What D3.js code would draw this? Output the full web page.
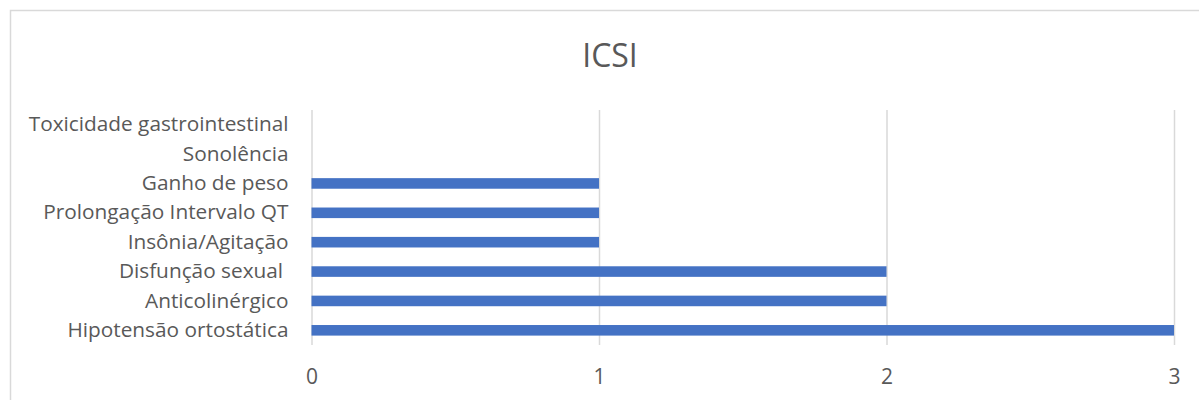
<!DOCTYPE html>
<html>
<head>
<meta charset="utf-8">
<script src="https://cdn.jsdelivr.net/npm/d3@7"></script>
<style>
  html, body { margin: 0; padding: 0; background: #fff; }
  svg { display: block; }
  text { font-family: "Open Sans", "Noto Sans", sans-serif; fill: #595959; }
</style>
</head>
<body>
<svg id="chart" width="1199" height="400"></svg>
<script>
// Side effects observed with ICSI, listed top to bottom
const categories = [
  "Toxicidade gastrointestinal",
  "Sonolência",
  "Ganho de peso",
  "Prolongação Intervalo QT",
  "Insônia/Agitação",
  "Disfunção sexual ",
  "Anticolinérgico",
  "Hipotensão ortostática"
];
const values = [0, 0, 1, 1, 1, 2, 2, 3];
const xTicks = [0, 1, 2, 3];
const chartTitle = "ICSI";

const svg = d3.select("#chart");
const W = 1199, H = 400;
const plot = { left: 311.5, right: 1174, top: 110, bottom: 345 };

// Chart frame
svg.append("rect")
  .attr("x", 10.5).attr("y", 10.5)
  .attr("width", W).attr("height", H)
  .attr("fill", "#fff")
  .attr("stroke", "#D9D9D9")
  .attr("stroke-width", 1.5);

// Title
svg.append("text")
  .attr("x", 610).attr("y", 67)
  .attr("text-anchor", "middle")
  .style("font-size", "32px")
  .text(chartTitle);

const x = d3.scaleLinear().domain([0, 3]).range([plot.left, plot.right]);
const y = d3.scaleBand()
  .domain(categories)
  .range([plot.top, plot.bottom])
  .paddingInner(0.64)
  .paddingOuter(0.32);

// Vertical gridlines
const xAxis = svg.append("g")
  .attr("transform", `translate(0,${plot.bottom})`)
  .call(d3.axisBottom(x).tickValues(xTicks).tickFormat(d3.format("d"))
    .tickSize(plot.bottom - plot.top));
xAxis.select(".domain").remove();
xAxis.selectAll(".tick line")
  .attr("y1", 0).attr("y2", -(plot.bottom - plot.top))
  .attr("stroke", "#D9D9D9").attr("stroke-width", 1.5);
xAxis.selectAll(".tick text")
  .attr("y", 32).attr("dy", "0.35em")
  .style("font-size", "21px")
  .attr("fill", "#595959");

// Category labels
const yAxis = svg.append("g")
  .attr("transform", `translate(${plot.left},0)`)
  .call(d3.axisLeft(y).tickSize(0).tickPadding(23));
yAxis.select(".domain").remove();
yAxis.selectAll(".tick text")
  .style("font-size", "20.8px")
  .style("white-space", "pre")
  .attr("fill", "#595959");

// Bars
svg.append("g").selectAll("rect")
  .data(categories.map((c, i) => ({ c, v: values[i] })))
  .join("rect")
  .attr("x", x(0))
  .attr("y", d => y(d.c))
  .attr("width", d => x(d.v) - x(0))
  .attr("height", y.bandwidth())
  .attr("fill", "#4472C4");
</script>
</body>
</html>
